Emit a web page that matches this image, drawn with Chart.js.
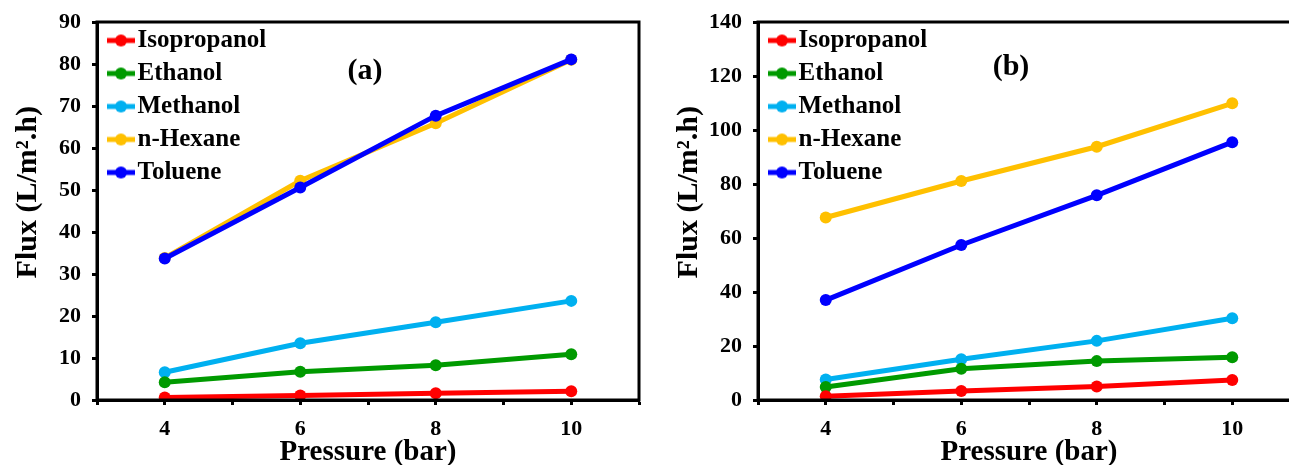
<!DOCTYPE html>
<html>
<head>
<meta charset="utf-8">
<script src="https://cdn.jsdelivr.net/npm/chart.js@4"></script>
<style>
  html, body { margin: 0; padding: 0; background: #fff; overflow: hidden; width: 1289px; height: 465px; }
  .panel { position: absolute; top: 0; }
  .tag { position: absolute; font: bold 30px 'Liberation Serif', 'Times New Roman', serif; transform: translate(-50%, -50%); color: #000; }
</style>
</head>
<body>
<div class="panel" style="left:0"><canvas id="chartA" width="645" height="465"></canvas></div>
<div class="panel" style="left:661px"><canvas id="chartB" width="645" height="465"></canvas></div>
<div class="tag" style="left:365px; top:69px">(a)</div>
<div class="tag" style="left:1011px; top:65px">(b)</div>
<script>
// pressure (bar) and solvents
const pressure = [4, 6, 8, 10];
const xTickLabels = [4, 6, 8, 10];
const solvents = ['Isopropanol', 'Ethanol', 'Methanol', 'n-Hexane', 'Toluene'];

// flux values, panel (a)
const isoA = [0.6, 1.1, 1.6, 2.1];
const ethA = [4.2, 6.7, 8.3, 10.9];
const metA = [6.6, 13.5, 18.5, 23.6];
const hexA = [33.8, 52.2, 65.9, 81.0];
const tolA = [33.7, 50.6, 67.7, 81.1];

// flux values, panel (b)
const isoB = [1.4, 3.3, 5.0, 7.4];
const ethB = [4.8, 11.6, 14.4, 15.8];
const metB = [7.6, 15.1, 21.9, 30.3];
const hexB = [67.6, 81.1, 93.8, 109.9];
const tolB = [37.0, 57.4, 75.8, 95.5];

const colors = ['#ff0000', '#009a00', '#00b0f0', '#ffc000', '#0000ff'];
const serif = "'Liberation Serif', 'Times New Roman', serif";

// petit symbole ligne + point pour la légende
function legendMark(color) {
  const c = document.createElement('canvas');
  c.width = 42; c.height = 14;
  const g = c.getContext('2d');
  g.strokeStyle = color; g.lineWidth = 5;
  g.beginPath(); g.moveTo(13, 7); g.lineTo(41, 7); g.stroke();
  g.fillStyle = color;
  g.beginPath(); g.arc(27, 7, 6, 0, Math.PI * 2); g.fill();
  return c;
}
const marks = colors.map(legendMark);

// cadre noir autour de la zone de tracé
const frame = {
  id: 'frame',
  afterLayout(chart) {
    chart.legend.top += 20;
    chart.legend.bottom += 20;
  },
  afterDraw(chart) {
    const { ctx, chartArea: a } = chart;
    ctx.save();
    ctx.strokeStyle = '#000';
    ctx.lineWidth = 3;
    ctx.strokeRect(a.left, a.top, a.right - a.left, a.bottom - a.top);
    ctx.restore();
  }
};

function makeChart(id, series, yMax, yStep) {
  const datasets = series.map((vals, i) => ({
    label: solvents[i],
    data: pressure.map((p, j) => ({ x: p, y: vals[j] })),
    borderColor: colors[i],
    backgroundColor: colors[i],
    pointBackgroundColor: colors[i],
    borderWidth: 5,
    pointRadius: 6,
    pointBorderWidth: 0,
    order: i === 4 ? -1 : 0,
    tension: 0
  }));

  return new Chart(document.getElementById(id), {
    type: 'line',
    data: { datasets },
    plugins: [frame],
    options: {
      responsive: false,
      animation: false,
      layout: { padding: { left: 0, top: 22, right: 4, bottom: 0 } },
      plugins: {
        tooltip: { enabled: false },
        legend: {
          position: 'chartArea',
          align: 'start',
          labels: {
            usePointStyle: true,
            pointStyleWidth: 20,
            padding: 8,
            color: '#000',
            font: { family: serif, size: 25, weight: 'bold' },
            sort: (a, b) => a.datasetIndex - b.datasetIndex,
            generateLabels: chart => Chart.defaults.plugins.legend.labels.generateLabels(chart)
              .map(l => ({ ...l, pointStyle: marks[l.datasetIndex] }))
          }
        }
      },
      scales: {
        x: {
          type: 'linear',
          min: 3,
          max: 11,
          afterFit: s => { s.height = 65; s.paddingLeft = 0; s.paddingRight = 0; },
          ticks: {
            stepSize: 1,
            autoSkip: false,
            maxRotation: 0,
            padding: 11,
            color: '#000',
            font: { family: serif, size: 22, weight: 'bold' },
            callback: v => xTickLabels.includes(v) ? String(v) : ''
          },
          grid: { drawOnChartArea: false, drawTicks: true, tickLength: 5, tickColor: '#000', tickWidth: 3 },
          border: { display: true, color: '#000', width: 3 },
          title: {
            display: true,
            text: 'Pressure (bar)',
            color: '#000',
            padding: { top: 0, bottom: -2 },
            font: { family: serif, size: 29, weight: 'bold', lineHeight: 1 }
          }
        },
        y: {
          min: 0,
          max: yMax,
          afterFit: s => { s.width = 97; s.paddingTop = 0; s.paddingBottom = 0; },
          ticks: {
            stepSize: yStep,
            padding: 11,
            color: '#000',
            font: { family: serif, size: 22, weight: 'bold' }
          },
          grid: { drawOnChartArea: false, drawTicks: true, tickLength: 5, tickColor: '#000', tickWidth: 3 },
          border: { display: true, color: '#000', width: 3 },
          title: {
            display: true,
            text: '     Flux (L/m\u00b2.h)',
            color: '#000',
            padding: { top: 13, bottom: 0 },
            font: { family: serif, size: 30, weight: 'bold', lineHeight: 1 }
          }
        }
      }
    }
  });
}

makeChart('chartA', [isoA, ethA, metA, hexA, tolA], 90, 10);
makeChart('chartB', [isoB, ethB, metB, hexB, tolB], 140, 20);
</script>
</body>
</html>
